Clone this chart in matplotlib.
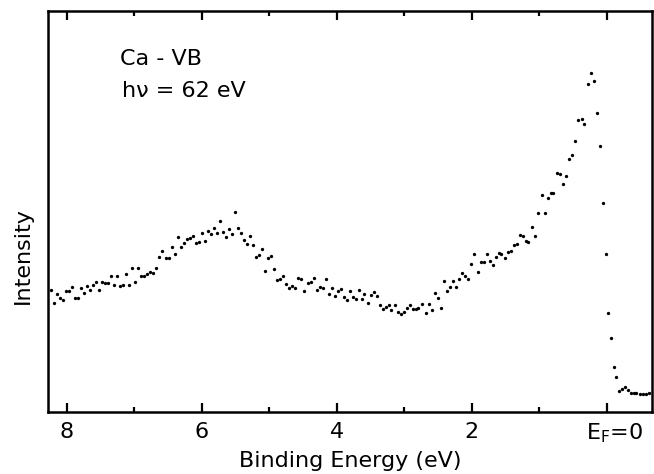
import numpy as np
import matplotlib
matplotlib.use('Agg')
import matplotlib.pyplot as plt
import matplotlib.transforms as mtransforms
from matplotlib.ticker import MultipleLocator

# Ca valence band photoemission spectrum, hv = 62 eV
binding_energy = [
    8.24, 8.19, 8.15, 8.10, 8.06, 8.01, 7.97, 7.93, 7.88, 7.84,
    7.79, 7.75, 7.70, 7.66, 7.61, 7.57, 7.53, 7.48, 7.44, 7.39,
    7.35, 7.30, 7.26, 7.21, 7.17, 7.13, 7.08, 7.04, 6.99, 6.95,
    6.90, 6.86, 6.81, 6.77, 6.73, 6.68, 6.64, 6.59, 6.53, 6.49,
    6.44, 6.40, 6.36, 6.31, 6.27, 6.22, 6.18, 6.13, 6.09, 6.04,
    6.00, 5.96, 5.91, 5.87, 5.82, 5.78, 5.73, 5.69, 5.64, 5.60,
    5.56, 5.51, 5.47, 5.42, 5.38, 5.33, 5.29, 5.24, 5.20, 5.16,
    5.11, 5.07, 5.02, 4.98, 4.93, 4.89, 4.84, 4.80, 4.76, 4.71,
    4.67, 4.62, 4.58, 4.53, 4.49, 4.43, 4.39, 4.34, 4.30, 4.25,
    4.21, 4.16, 4.12, 4.07, 4.03, 3.99, 3.94, 3.90, 3.85, 3.81,
    3.76, 3.72, 3.67, 3.63, 3.59, 3.54, 3.50, 3.45, 3.41, 3.36,
    3.32, 3.27, 3.23, 3.19, 3.14, 3.10, 3.05, 3.01, 2.96, 2.92,
    2.87, 2.83, 2.79, 2.74, 2.68, 2.64, 2.59, 2.55, 2.50, 2.46,
    2.41, 2.37, 2.33, 2.28, 2.24, 2.19, 2.15, 2.10, 2.06, 2.01,
    1.97, 1.91, 1.87, 1.82, 1.78, 1.73, 1.69, 1.64, 1.60, 1.56,
    1.51, 1.47, 1.42, 1.38, 1.33, 1.29, 1.24, 1.20, 1.16, 1.11,
    1.07, 1.02, 0.96, 0.92, 0.87, 0.83, 0.79, 0.74, 0.70, 0.65,
    0.61, 0.56, 0.52, 0.47, 0.43, 0.37, 0.33, 0.28, 0.24, 0.19,
    0.15, 0.10, 0.06, 0.01, -0.02, -0.06, -0.10, -0.14, -0.18, -0.22,
    -0.27, -0.31, -0.36, -0.40, -0.44, -0.49, -0.53, -0.58, -0.62,
]
intensity = [
    122, 109, 118, 114, 112, 121, 121, 125, 114, 114,
    124, 119, 126, 122, 127, 130, 122, 130, 129, 129,
    136, 127, 136, 126, 127, 138, 127, 144, 130, 144,
    136, 136, 138, 140, 139, 144, 155, 161, 154, 154,
    165, 158, 175, 165, 169, 173, 174, 176, 169, 170,
    179, 171, 181, 178, 184, 179, 191, 180, 175, 183,
    178, 200, 184, 179, 172, 168, 176, 167, 155, 157,
    163, 141, 154, 156, 143, 132, 133, 136, 128, 124,
    126, 124, 134, 133, 121, 129, 130, 134, 122, 125,
    124, 133, 118, 124, 116, 121, 123, 115, 112, 121,
    115, 113, 122, 113, 118, 109, 117, 120, 116, 107,
    103, 105, 107, 102, 107, 100, 98, 100, 104, 107,
    103, 103, 104, 108, 99, 108, 102, 119, 114, 104,
    131, 121, 125, 131, 125, 133, 139, 136, 133, 148,
    158, 140, 150, 150, 158, 151, 147, 155, 159, 158,
    154, 160, 161, 167, 168, 177, 176, 171, 170, 185,
    176, 199, 217, 199, 214, 219, 219, 239, 238, 228,
    236, 253, 257, 271, 292, 293, 288, 328, 339, 331,
    299, 266, 209, 158, 99, 74, 45, 35, 21, 23,
    25, 22, 19, 19, 19, 18, 18, 18, 19,
]

tick_values = [8, 6, 4, 2, 0]
tick_labels = ['8', '6', '4', '2', r'E$_\mathregular{F}$=0']

plt.rcParams['font.family'] = 'DejaVu Sans'

fig = plt.figure(figsize=(6.54, 4.74), dpi=100)
fig.patch.set_facecolor('white')
ax = fig.add_axes([0.0734, 0.1308, 0.9235, 0.846])

ax.plot(binding_energy, intensity, linestyle='none', marker='o',
        markersize=2.4, color='black', markeredgewidth=0)

ax.set_xlim(8.28, -0.67)
ax.set_ylim(0, 401)

ax.set_xticks(tick_values)
ax.set_xticklabels(tick_labels)
ax.xaxis.set_minor_locator(MultipleLocator(1))
ax.set_yticks([])

ax.tick_params(axis='x', which='major', direction='in', length=6.5, width=1.6,
               top=True, bottom=True, labelsize=16, pad=7)
ax.tick_params(axis='x', which='minor', direction='in', length=3.8, width=1.6,
               top=True, bottom=True)
for sp in ax.spines.values():
    sp.set_linewidth(1.8)

# E_F label sits a little right of its tick in the original
lbl = ax.get_xticklabels()[-1]
lbl.set_transform(lbl.get_transform() +
                  mtransforms.ScaledTranslation(8 / 100, 0, fig.dpi_scale_trans))

ax.set_xlabel('Binding Energy (eV)', fontsize=16, labelpad=4)
ax.set_ylabel('Intensity', fontsize=16)
ax.yaxis.set_label_coords(-0.025, 0.39)

ax.text(0.12, 0.865, 'Ca - VB', transform=ax.transAxes, fontsize=16,
        ha='left', va='baseline')
ax.text(0.122, 0.785, 'hν = 62 eV', transform=ax.transAxes, fontsize=16,
        ha='left', va='baseline')

plt.savefig('out.png', dpi=100, facecolor='white')
